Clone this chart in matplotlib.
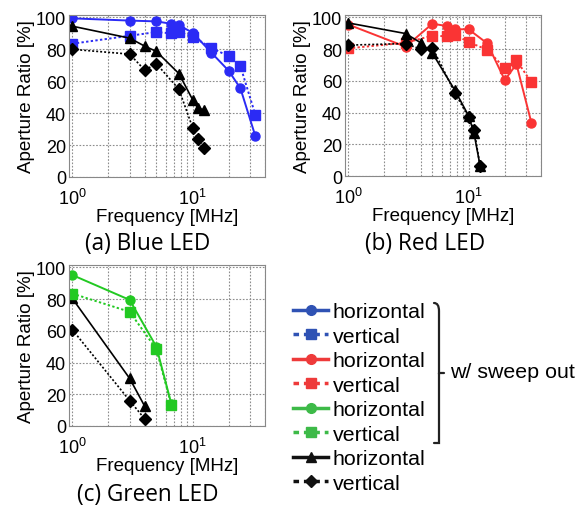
import matplotlib.pyplot as plt
from matplotlib.lines import Line2D
from matplotlib.path import Path
from matplotlib.patches import PathPatch

plt.rcParams['font.family'] = ['Liberation Sans', 'DejaVu Sans']
plt.rcParams['mathtext.fontset'] = 'custom'
plt.rcParams['mathtext.rm'] = 'Liberation Sans'

# ---- data (frequency in MHz, aperture ratio in %) ----
f_col = [1, 3, 5, 6.67, 7.7, 10, 14.3, 20, 25, 33.3]
f_blk = [1, 3, 4, 5, 7.7, 10, 11.1, 12.5]

blue_h = [99.4, 98, 97.5, 96, 95, 90.5, 78, 66.5, 55.5, 25.5]
blue_v = [83.5, 88.5, 90.8, 90, 91, 88, 81, 75.6, 69.4, 38.8]
blueblk_h = [94.5, 87, 82, 78.7, 64.8, 48.5, 43, 42]
blueblk_v = [80, 77, 67, 71, 55, 31, 24, 18.3]

red_h = [95.5, 81.5, 96, 94.5, 92.5, 92.5, 83.6, 60.5, 70.5, 33.5]
red_v = [80.5, 84, 88.5, 88, 89, 84.5, 79.5, 68, 73, 59]
redblk_h = [96.5, 89.8, 84, 77.5, 54, 38, 27, 6]
redblk_v = [82.5, 83.5, 80, 81, 52.5, 37, 29, 6]

f_grn = [1, 3, 5, 6.67]
f_grnblk = [1, 3, 4]
green_h = [95.2, 79.5, 50, 13.8]
green_v = [83.5, 72, 48.5, 13.2]
grnblk_h = [80.5, 30, 12.5]
grnblk_v = [60.8, 16, 4.5]

captions = ['(a) Blue LED', '(b) Red LED', '(c) Green LED']

W, H = 577, 510
fig = plt.figure(figsize=(W / 100, H / 100), dpi=100)


def px(x0, y0, x1, y1):
    return [x0 / W, 1 - y1 / H, (x1 - x0) / W, (y1 - y0) / H]


def setup(ax):
    ax.set_xscale('log')
    ax.set_xlim(0.94, 40)
    ax.set_ylim(0, 101.5)
    ax.set_yticks([0, 20, 40, 60, 80, 100])
    ax.set_xticks([1, 10])
    ax.grid(True, which='both', axis='x', color='#8c8c8c', ls=(0, (1.5, 1.5)), lw=0.8)
    ax.grid(True, which='major', axis='y', color='#8c8c8c', ls=(0, (1.5, 1.5)), lw=0.8)
    ax.tick_params(which='both', direction='in', length=0, labelsize=13, pad=2)
    ax.tick_params(axis='x', pad=8)
    for s in ax.spines.values():
        s.set_color('#888888')
        s.set_linewidth(0.8)
    ax.set_xlabel('Frequency [MHz]', fontsize=13.5, labelpad=0)
    ax.set_ylabel('Aperture Ratio [%]', fontsize=13.5, labelpad=1)


C_BLUE = '#2b2bf5'
C_RED = '#fa3434'
C_GRN = '#22c922'

ax_a = fig.add_axes(px(69, 16, 265, 178))
ax_b = fig.add_axes(px(345, 16, 541, 177))
ax_c = fig.add_axes(px(69, 266, 265, 427))

ms = 6.5
dot = (0, (1.2, 1.2))


def draw(ax, fc, col, h, v, fb, bh, bv, order_black_first=False):
    def colored():
        ax.plot(fc, v, color=col, ls=dot, lw=1.4, marker='s', ms=ms, mec=col)
        ax.plot(fc, h, color=col, ls='-', lw=1.4, marker='o', ms=ms, mec=col)

    def black():
        ax.plot(fb, bv, color='black', ls=dot, lw=1.2, marker='D', ms=ms - 0.8)
        ax.plot(fb, bh, color='black', ls='-', lw=1.2, marker='^', ms=ms + 0.5)

    if order_black_first:
        black()
        colored()
    else:
        colored()
        black()


draw(ax_a, f_col, C_BLUE, blue_h, blue_v, f_blk, blueblk_h, blueblk_v)
draw(ax_b, f_col, C_RED, red_h, red_v, f_blk, redblk_h, redblk_v)
draw(ax_c, f_grn, C_GRN, green_h, green_v, f_grnblk, grnblk_h, grnblk_v, True)

for ax in (ax_a, ax_b, ax_c):
    setup(ax)

cap_pos = [(148, 244), (425, 244), (148, 495)]
for txt, (cx, cy) in zip(captions, cap_pos):
    fig.text(cx / W, 1 - cy / H, txt, ha='center', va='center',
             fontsize=16.3, family=['Open Sans', 'DejaVu Sans'])

# ---- legend ----
L_BLUE = '#2f52b4'
L_RED = '#ee3a3a'
L_GRN = '#3dba48'
dash = (0, (1.6, 1.4))
handles = [
    Line2D([], [], color=L_BLUE, lw=2.5, marker='o', ms=7),
    Line2D([], [], color=L_BLUE, lw=2.5, ls=dash, marker='s', ms=6.5),
    Line2D([], [], color=L_RED, lw=2.5, marker='o', ms=7),
    Line2D([], [], color=L_RED, lw=2.5, ls=dash, marker='s', ms=6.5),
    Line2D([], [], color=L_GRN, lw=2.5, marker='o', ms=7),
    Line2D([], [], color=L_GRN, lw=2.5, ls=dash, marker='s', ms=6.5),
    Line2D([], [], color='#111111', lw=2.5, marker='^', ms=7.5),
    Line2D([], [], color='#111111', lw=2.5, ls=dash, marker='D', ms=6),
]
labels = ['horizontal', 'vertical'] * 4
fig.legend(handles, labels, loc='upper left', bbox_to_anchor=(293 / W, 1 - 303 / H),
           frameon=False, fontsize=15.4, handlelength=1.65, handletextpad=0.2,
           labelspacing=0.26, borderpad=0, borderaxespad=0)

# curly brace
bx, y0, y1 = 434, 304, 444
ym = (y0 + y1) / 2
w = 5
verts = [(bx, y0), (bx + w, y0), (bx + w, y0 + 8), (bx + w, ym - 10),
         (bx + w, ym - 2), (bx + w, ym), (bx + 2 * w, ym),
         (bx + w, ym), (bx + w, ym + 2), (bx + w, ym + 10),
         (bx + w, y1 - 8), (bx + w, y1), (bx, y1)]
codes = [Path.MOVETO, Path.CURVE3, Path.CURVE3, Path.LINETO,
         Path.CURVE3, Path.CURVE3, Path.LINETO,
         Path.MOVETO, Path.CURVE3, Path.LINETO,
         Path.CURVE3, Path.CURVE3, Path.LINETO]
verts = [(x / W, 1 - y / H) for x, y in verts]
fig.add_artist(PathPatch(Path(verts, codes), transform=fig.transFigure,
                         fill=False, lw=1.6, color='#222222', capstyle='round'))
fig.text(450 / W, 1 - 373 / H, 'w/ sweep out', ha='left', va='center', fontsize=15.4)

fig.savefig('out.png', dpi=100)
